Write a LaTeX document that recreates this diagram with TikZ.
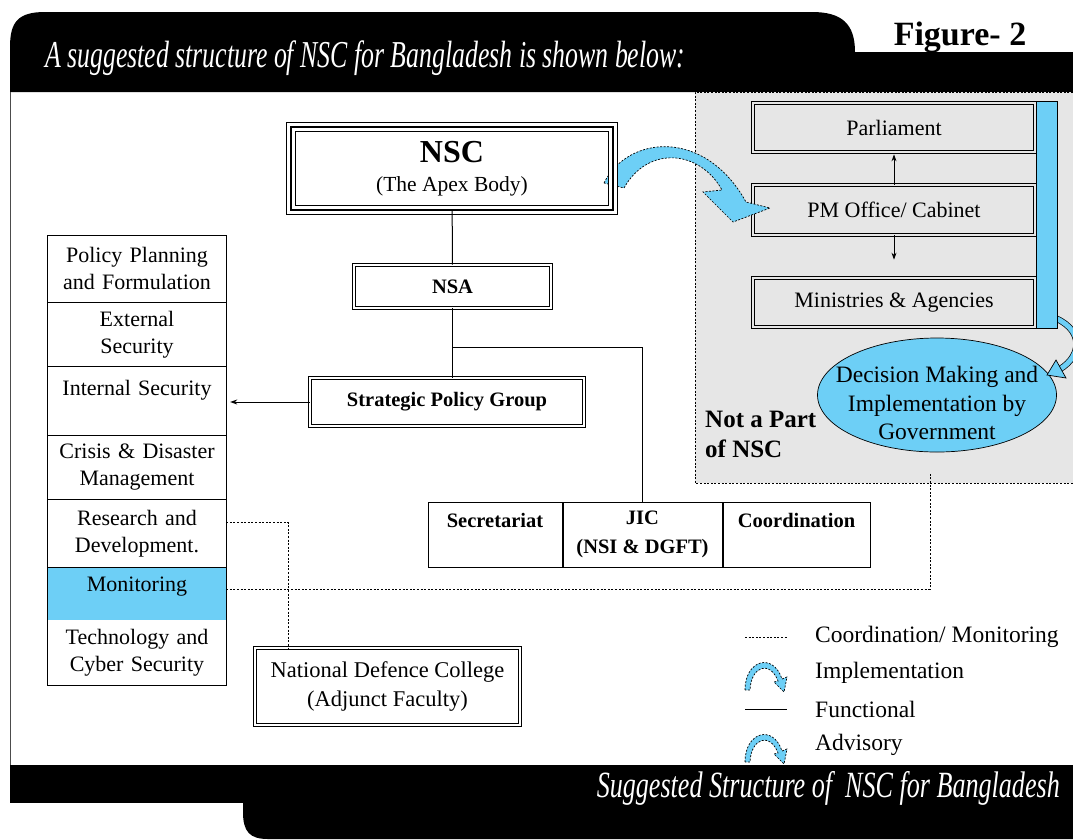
\documentclass[tikz,border=0pt]{standalone}
\usepackage{fontspec}
\setmainfont{Liberation Serif}
\usepackage{graphicx}
\usepackage{xcolor}
\usepackage{tikz}
\usetikzlibrary{positioning,shapes.geometric,arrows.meta}
\definecolor{skyblue}{HTML}{6DCFF6}
\definecolor{panelgrey}{HTML}{E6E6E6}

\begin{document}
\begin{tikzpicture}[x=1pt,y=-1pt,
  every node/.style={inner sep=0pt},
  txt/.style={font=\fontsize{22}{27}\selectfont, align=center},
  boldtxt/.style={font=\fontsize{20.5}{29}\selectfont\bfseries, align=center},
  legendtxt/.style={font=\fontsize{23.5}{28}\selectfont, anchor=west},
  cell/.style={txt, minimum width=178pt, text width=172pt},
  dbox/.style={draw, double, double distance=2.6pt, line width=0.7pt},
  tribox/.style={draw, line width=2.2pt, preaction={draw, line width=10pt}, preaction={draw=white, line width=8.4pt}},
  tablebox/.style={draw, line width=1pt, minimum height=65pt, boldtxt},
  func/.style={line width=1pt},
  dotline/.style={line width=0.9pt, dash pattern=on 2pt off 1.6pt},
  impl/.style={fill=skyblue, draw, line width=0.7pt, dash pattern=on 2pt off 1.5pt},
  arr/.style={-{Stealth[length=7pt,width=5pt]}, line width=0.9pt}]

\useasboundingbox (0,0) rectangle (1073,839);

% banners
\fill (10,92) -- (10,47) .. controls (10,22) and (18,12) .. (45,12) -- (812,12) .. controls (842,12) and (855,24) .. (855,52) -- (1073,52) -- (1073,92) -- cycle;
\fill (10,765) rectangle (1073,803);
\fill (243,803) -- (243,812) .. controls (243,832) and (250,839) .. (268,839) -- (1073,839) -- (1073,803) -- cycle;
\draw[black!70, line width=1pt] (10,92) -- (10,765);

\node[anchor=base west, text=white] (title) at (45,67) {\resizebox{640pt}{\height}{\fontsize{38}{38}\selectfont\itshape A suggested structure of NSC for Bangladesh is shown below:}};
\node[anchor=base, font=\fontsize{34}{34}\selectfont\bfseries] (fig) at (960,45) {Figure- 2};
\node[anchor=base east, text=white] (caption) at (1060,797) {\resizebox{463pt}{\height}{\fontsize{37}{37}\selectfont\itshape Suggested Structure of\ \ NSC for Bangladesh}};

% not a part of NSC
\fill[panelgrey] (695,92) rectangle (1073,483);
\draw[dotline] (1073,92) -- (695,92) -- (695,483) -- (1073,483);

\node[dbox, double=panelgrey, minimum width=282pt, minimum height=49pt, txt] (parl) at (894,127.5) {Parliament};
\node[dbox, double=panelgrey, minimum width=282pt, minimum height=50pt, txt] (pm) at (894,210) {PM Office/ Cabinet};
\node[dbox, double=panelgrey, minimum width=282pt, minimum height=49pt, txt] (min) at (894,302.5) {Ministries \& Agencies};
\draw[arr, shorten >=2pt] (pm.north) -- (parl.south);
\draw[arr, shorten >=18pt] (pm.south) -- (min.north);

\node[ellipse, draw, fill=skyblue, line width=0.7pt, minimum width=239pt, minimum height=114pt] (gov) at (937,395) {};
\node[font=\fontsize{23.5}{28.5}\selectfont, align=center] (govtxt) at (937,403) {Decision Making and\\Implementation by\\Government};

\draw[double=skyblue, double distance=5pt, line width=0.7pt] (1050,316) .. controls (1085,328) and (1082,356) .. (1060,369);
\filldraw[fill=skyblue, line width=0.7pt] (1056,360) -- (1066,378) -- (1047,375) -- cycle;
\node[draw, fill=skyblue, line width=0.8pt, minimum width=21pt, minimum height=227pt] (bar) at (1046.5,214.5) {};

\node[anchor=north west, align=left, font=\fontsize{25}{30}\selectfont\bfseries] (notpart) at (705,411) {Not a Part\\of NSC};

% left column
\node[cell, minimum height=67pt, anchor=north] (pp) at (137,235) {Policy Planning\\and Formulation};
\node[cell, minimum height=64pt, below=0pt of pp] (es) {External\\Security};
\node[cell, minimum height=68pt, below=0pt of es] (is) {Internal Security\\\mbox{}};
\node[cell, minimum height=64pt, below=0pt of is] (cd) {Crisis \& Disaster\\Management};
\node[cell, minimum height=67pt, below=0pt of cd] (rd) {Research and\\Development.};
\node[cell, minimum height=53pt, below=0pt of rd, fill=skyblue] (mo) {Monitoring\\[-8pt]\mbox{}};
\node[cell, minimum height=65pt, below=0pt of mo] (tc) {Technology and\\Cyber Security};
\draw[line width=1pt] (pp.north west) rectangle (tc.south east);
\foreach \c in {pp,es,is,cd,rd}
  \draw[line width=1pt] (\c.south west) -- (\c.south east);

% main chain
\filldraw[impl] (604,183) .. controls (628,135) and (705,128) .. (746,202) -- (770,208) -- (733,222) -- (703,192) -- (722,190) .. controls (700,150) and (648,145) .. (624,188) -- cycle;
\node[tribox, minimum width=322pt, minimum height=83pt, align=center, font=\fontsize{21.5}{26}\selectfont] (nsc) at (452,168.5) {{\fontsize{32}{36}\selectfont\bfseries NSC}\\[3pt](The Apex Body)};
\node[dbox, fill=white, minimum width=197pt, minimum height=43pt, boldtxt] (nsa) at (452.5,286.5) {NSA};
\node[dbox, fill=white, minimum width=274pt, minimum height=48pt, boldtxt] (spg) at (447,402) {Strategic Policy Group};

\node[tablebox, minimum width=134pt] (sec) at (495,534.5) {Secretariat\\\mbox{}};
\node[tablebox, minimum width=159pt, right=0pt of sec] (jic) {JIC\\(NSI \& DGFT)};
\node[tablebox, minimum width=147pt, right=0pt of jic] (coo) {Coordination\\\mbox{}};

\node[dbox, minimum width=265pt, minimum height=77pt, txt, font=\fontsize{22.5}{29}\selectfont] (ndc) at (387.5,686.5) {National Defence College\\(Adjunct Faculty)};

\draw[func] (nsc) -- (nsa);
\draw[func] (nsa.south) -- (nsa.south |- spg.north);
\coordinate (fork) at ([yshift=-39.5pt]nsa.south);
\draw[func] (fork) -| (jic.north);
\draw[arr, shorten >=4pt] (spg.west) -- (spg.west -| is.east);

% coordination / monitoring links
\coordinate (ndcin) at ([xshift=34pt]ndc.north west);
\draw[dotline] ([yshift=10.5pt]rd.east) -| (ndcin);
\coordinate (govlink) at (930,473);
\draw[dotline] ([yshift=4.5pt]mo.east) -| (govlink);

% legend
\coordinate (lgdota) at (745,637);
\coordinate (lgdotb) at (787,637);
\draw[dotline] (lgdota) -- (lgdotb);
\coordinate (lgfuna) at (745,709);
\coordinate (lgfunb) at (787,709);
\draw[func] (lgfuna) -- (lgfunb);
\foreach \ly in {690,762}
{
  \begin{scope}[shift={(745,\ly)}]
    \filldraw[impl] (0,0) .. controls (0,-30) and (28,-38) .. (37,-11) -- (42,-13) -- (39,2) -- (29,-8) -- (33,-9) .. controls (25,-30) and (6,-24) .. (5,0) -- cycle;
  \end{scope}
}
\node[legendtxt] (lgcoord) at (815,637) {Coordination/ Monitoring};
\node[legendtxt] (lgimpl) at (815,673) {Implementation};
\node[legendtxt] (lgfunc) at (815,709) {Functional};
\node[legendtxt] (lgadv) at (815,745) {Advisory};

\end{tikzpicture}
\end{document}
